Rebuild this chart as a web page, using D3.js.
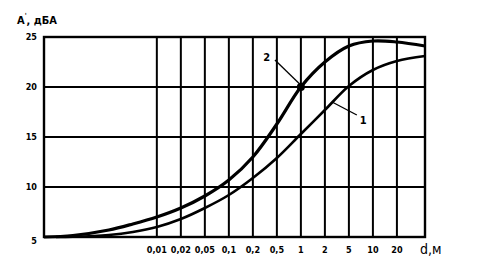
<!DOCTYPE html>
<html>
<head>
<meta charset="utf-8">
<script src="https://cdn.jsdelivr.net/npm/d3@7"></script>
<style>
	body { margin: 0; background: #fff; }
	text { font-family: "Liberation Sans Narrow", "DejaVu Sans Condensed", sans-serif; fill: #000; }
</style>
</head>
<body>
<div id="chart"></div>
<script>
// x axis: equally spaced grid positions (index 0 = 0,01 m), left part has no ticks
var x_ticks = ["0,01", "0,02", "0,05", "0,1", "0,2", "0,5", "1", "2", "5", "10", "20"];
var y_ticks = [5, 10, 15, 20, 25];

// curve 2 (upper, steeper) and curve 1 (lower), read at grid positions
var pos_2 = [-4.7, -3.5, -2, -1, 0, 1, 2, 3, 4, 5, 6, 7, 8, 9, 10, 11.17];
var val_2 = [5.0, 5.15, 5.7, 6.3, 7.0, 7.9, 9.1, 10.7, 13.0, 16.3, 20.0, 22.5, 24.1, 24.6, 24.5, 24.1];
var pos_1 = [-4.2, -3.5, -2, -1, 0, 1, 2, 3, 4, 5, 6, 7, 8, 9, 10, 11.17];
var val_1 = [5.0, 5.02, 5.2, 5.5, 6.0, 6.8, 7.9, 9.2, 10.9, 12.9, 15.3, 17.7, 20.1, 21.7, 22.6, 23.1];

// marked point on curve 2
var dot_pos = 6, dot_val = 20;

function print_chart(width, height){

	var svg = d3.select("#chart").append("svg")
		.attr("width", width)
		.attr("height", height);

	// plot frame
	var left = 44, right = 425, top = 37, bottom = 237;

	var xScale = d3.scaleLinear()
		.domain([-4.7, 11.17])
		.range([left, right]);

	var yScale = d3.scaleLinear()
		.domain([5, 25])
		.range([bottom, top]);

	var grid = svg.append("g")
		.attr("stroke", "#000")
		.attr("stroke-width", 2)
		.attr("fill", "none");

	// vertical grid lines
	grid.selectAll("line.v")
		.data(x_ticks)
		.enter().append("line")
		.attr("class", "v")
		.attr("x1", function(d, i){ return xScale(i); })
		.attr("x2", function(d, i){ return xScale(i); })
		.attr("y1", top)
		.attr("y2", bottom);

	// horizontal grid lines
	grid.selectAll("line.h")
		.data(y_ticks)
		.enter().append("line")
		.attr("class", "h")
		.attr("x1", left)
		.attr("x2", right)
		.attr("y1", function(d){ return yScale(d); })
		.attr("y2", function(d){ return yScale(d); });

	// frame
	grid.append("rect")
		.attr("x", left)
		.attr("y", top)
		.attr("width", right - left)
		.attr("height", bottom - top)
		.attr("stroke-width", 2.4);

	// tick labels
	svg.selectAll("text.xt")
		.data(x_ticks)
		.enter().append("text")
		.attr("class", "xt")
		.attr("x", function(d, i){ return xScale(i); })
		.attr("y", 250)
		.attr("dy", ".35em")
		.attr("text-anchor", "middle")
		.style("font-size", "9px")
		.style("font-weight", "bold")
		.text(function(d){ return d; });

	svg.selectAll("text.yt")
		.data(y_ticks)
		.enter().append("text")
		.attr("class", "yt")
		.attr("x", 37)
		.attr("y", function(d){ return yScale(d) + (d == 5 ? 4 : 0); })
		.attr("dy", ".35em")
		.attr("text-anchor", "end")
		.style("font-size", "9px")
		.style("font-weight", "bold")
		.text(function(d){ return d; });

	// axis titles
	svg.append("text")
		.attr("x", 420)
		.attr("y", 249)
		.attr("dy", ".35em")
		.style("font-size", "14px")
		.text("d,м");

	var yt = svg.append("text")
		.attr("x", 17)
		.attr("y", 24)
		.style("font-size", "11px")
		.style("font-weight", "bold");
	yt.append("tspan").text("A");
	yt.append("tspan").attr("dy", -6).style("font-size", "7px").text("'");
	yt.append("tspan").attr("dy", 6).text(", дБА");

	// curves
	var line = d3.line()
		.x(function(d){ return xScale(d.pos); })
		.y(function(d){ return yScale(d.value); })
		.curve(d3.curveCatmullRom.alpha(0.5));

	var arr_1 = [], arr_2 = [];
	for (var i = 0; i < pos_1.length; i++){
		arr_1.push({ pos: pos_1[i], value: val_1[i] });
	}
	for (var i = 0; i < pos_2.length; i++){
		arr_2.push({ pos: pos_2[i], value: val_2[i] });
	}

	svg.append("path")
		.datum(arr_1)
		.attr("d", line)
		.attr("fill", "none")
		.attr("stroke", "#000")
		.attr("stroke-width", 2.6);

	svg.append("path")
		.datum(arr_2)
		.attr("d", line)
		.attr("fill", "none")
		.attr("stroke", "#000")
		.attr("stroke-width", 3.2);

	svg.append("circle")
		.attr("cx", xScale(dot_pos))
		.attr("cy", yScale(dot_val))
		.attr("r", 4)
		.attr("fill", "#000");

	// curve labels with leader lines
	svg.append("line")
		.attr("x1", xScale(4.92)).attr("y1", yScale(22.7))
		.attr("x2", xScale(5.95)).attr("y2", yScale(20.3))
		.attr("stroke", "#000").attr("stroke-width", 1.3);
	svg.append("text")
		.attr("x", xScale(4.58))
		.attr("y", yScale(23))
		.attr("dy", ".35em")
		.attr("text-anchor", "middle")
		.style("font-size", "11px")
		.style("font-weight", "bold")
		.text("2");

	svg.append("line")
		.attr("x1", xScale(7.3)).attr("y1", yScale(18.5))
		.attr("x2", xScale(8.33)).attr("y2", yScale(17.2))
		.attr("stroke", "#000").attr("stroke-width", 1.3);
	svg.append("text")
		.attr("x", xScale(8.6))
		.attr("y", yScale(16.7))
		.attr("dy", ".35em")
		.attr("text-anchor", "middle")
		.style("font-size", "11px")
		.style("font-weight", "bold")
		.text("1");
}

print_chart(480, 271);
</script>
</body>
</html>
